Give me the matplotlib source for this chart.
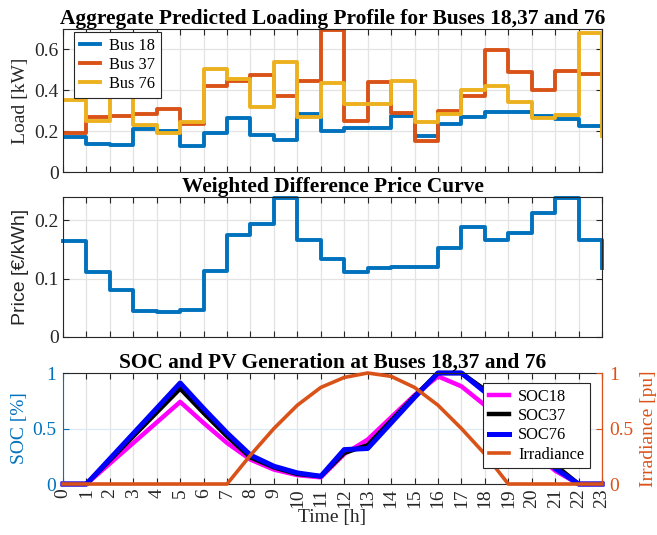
import matplotlib
matplotlib.use("Agg")
import matplotlib.pyplot as plt
import numpy as np

hours = list(range(24))

bus18 = [0.17, 0.138, 0.133, 0.21, 0.20, 0.126, 0.19, 0.265, 0.18, 0.157, 0.285, 0.20,
         0.216, 0.213, 0.275, 0.174, 0.233, 0.27, 0.295, 0.295, 0.272, 0.257, 0.226, 0.226]
bus37 = [0.19, 0.27, 0.272, 0.285, 0.31, 0.236, 0.423, 0.446, 0.475, 0.37, 0.446, 0.695,
         0.252, 0.443, 0.288, 0.154, 0.298, 0.37, 0.597, 0.489, 0.403, 0.492, 0.479, 0.479]
bus76 = [0.35, 0.25, 0.40, 0.228, 0.19, 0.244, 0.506, 0.456, 0.318, 0.54, 0.269, 0.436,
         0.331, 0.334, 0.446, 0.244, 0.282, 0.403, 0.42, 0.343, 0.266, 0.277, 0.679, 0.174]

price = [0.164, 0.111, 0.081, 0.045, 0.042, 0.047, 0.113, 0.175, 0.193, 0.238, 0.166, 0.133,
         0.111, 0.119, 0.12, 0.12, 0.153, 0.188, 0.166, 0.178, 0.213, 0.238, 0.166, 0.118]

soc18 = [0, 0, 0.185, 0.37, 0.555, 0.74, 0.55, 0.37, 0.22, 0.13, 0.08, 0.06,
         0.27, 0.40, 0.60, 0.80, 0.97, 0.88, 0.71, 0.50, 0.30, 0.12, 0, 0]
soc37 = [0, 0, 0.215, 0.43, 0.645, 0.86, 0.64, 0.43, 0.24, 0.15, 0.09, 0.07,
         0.28, 0.35, 0.57, 0.79, 1.0, 1.0, 0.85, 0.62, 0.40, 0.17, 0, 0]
soc76 = [0, 0, 0.2275, 0.455, 0.6825, 0.91, 0.68, 0.46, 0.26, 0.16, 0.10, 0.07,
         0.31, 0.32, 0.55, 0.78, 1.0, 1.0, 0.83, 0.60, 0.38, 0.14, 0, 0]
irradiance = [0, 0, 0, 0, 0, 0, 0, 0, 0.26, 0.5, 0.71, 0.87, 0.96, 1.0, 0.97, 0.87,
              0.71, 0.5, 0.27, 0, 0, 0, 0, 0]

load_ticks = [0, 0.2, 0.4, 0.6]
load_ticklabels = ["0", "0.2", "0.4", "0.6"]
price_ticks = [0, 0.1, 0.2]
price_ticklabels = ["0", "0.1", "0.2"]
soc_ticks = [0, 0.5, 1]
soc_ticklabels = ["0", "0.5", "1"]

C_BLUE = "#0072BD"
C_ORANGE = "#D95319"
C_YELLOW = "#EDB120"
AX_COL = "#262626"
GRID = "#e3e3e3"
SERIF = "Liberation Serif"
SANS = "Liberation Sans"

plt.rcParams["font.family"] = SERIF
plt.rcParams["mathtext.fontset"] = "stix"

fig = plt.figure(figsize=(6.57, 5.35), dpi=100)

L, W = 0.0959, 0.8204
ax1 = fig.add_axes([L, 0.6785, W, 0.2673])
ax2 = fig.add_axes([L, 0.3701, W, 0.2617])
ax3 = fig.add_axes([L, 0.0953, W, 0.2075])

TITLE_FS = 15.4
LEG_FS = 11.8


def style(ax):
    for s in ax.spines.values():
        s.set_color(AX_COL)
        s.set_linewidth(0.8)
    ax.tick_params(direction="in", length=4, width=0.8, top=True, right=True,
                   labelsize=14, colors=AX_COL, pad=3)
    ax.set_xlim(0, 23)
    ax.set_xticks(hours)
    ax.grid(True, color=GRID, linewidth=0.9)
    ax.set_axisbelow(True)


def legend(ax, handles, anchor):
    leg = ax.legend(handles=handles, loc="upper left", bbox_to_anchor=anchor,
                    borderaxespad=0, fontsize=LEG_FS, handlelength=1.25,
                    handletextpad=0.55, borderpad=0.35, labelspacing=0.2,
                    fancybox=False, framealpha=1, edgecolor=AX_COL)
    leg.get_frame().set_linewidth(0.8)
    return leg


# Top panel
style(ax1)
h18, = ax1.step(hours, bus18, where="post", color=C_BLUE, lw=2.8, label="Bus 18")
h37, = ax1.step(hours, bus37, where="post", color=C_ORANGE, lw=2.8, label="Bus 37")
h76, = ax1.step(hours, bus76, where="post", color=C_YELLOW, lw=2.8, label="Bus 76")
ax1.set_ylim(0, 0.7)
ax1.set_yticks(load_ticks)
ax1.set_yticklabels(load_ticklabels)
ax1.set_xticklabels([])
ax1.set_ylabel("Load [kW]", fontsize=14, color=AX_COL, labelpad=4)
ax1.set_title("Aggregate Predicted Loading Profile for Buses 18,37 and 76",
              fontsize=TITLE_FS, fontweight="bold", pad=3)
legend(ax1, [h18, h37, h76], (0.02, 0.98))

# Middle panel
style(ax2)
ax2.step(hours, price, where="post", color=C_BLUE, lw=2.8, clip_on=False)
ax2.set_ylim(0, 0.24)
ax2.set_yticks(price_ticks)
ax2.set_yticklabels(price_ticklabels)
ax2.set_xticklabels([])
ax2.set_ylabel("Price [€/kWh]", fontsize=14, family=SANS, color=AX_COL, labelpad=4)
ax2.set_title("Weighted Difference Price Curve", fontsize=TITLE_FS, fontweight="bold", pad=3)

# Bottom panel
style(ax3)
ax3.tick_params(right=False)
ax3.grid(False)
ax3.grid(True, axis="x", color=GRID, linewidth=0.9)
ax3.grid(True, axis="y", color="#d9eaf5", linewidth=0.9)
l1, = ax3.plot(hours, soc18, color="#FF00FF", lw=3.2, label="SOC18", clip_on=False)
l2, = ax3.plot(hours, soc37, color="black", lw=3.2, label="SOC37", clip_on=False)
l3, = ax3.plot(hours, soc76, color="#0000FF", lw=3.6, label="SOC76", clip_on=False)
ax3.set_ylim(0, 1)
ax3.set_yticks(soc_ticks)
ax3.set_yticklabels(soc_ticklabels)
ax3.set_xticklabels([str(h) for h in hours], rotation=90)
ax3.tick_params(axis="x", pad=3)
ax3.tick_params(axis="y", colors=C_BLUE, pad=5)
ax3.spines["left"].set_color(C_BLUE)
ax3.set_ylabel("SOC [%]", fontsize=14, color=C_BLUE, labelpad=3)
ax3.set_xlabel("Time [h]", fontsize=14, color=AX_COL, labelpad=1)
ax3.set_title("SOC and PV Generation at Buses 18,37 and 76",
              fontsize=TITLE_FS, fontweight="bold", pad=3)

ax4 = ax3.twinx()
ax4.set_xlim(0, 23)
l4, = ax4.plot(hours, irradiance, color=C_ORANGE, lw=2.6, label="Irradiance", clip_on=False)
ax4.set_ylim(0, 1)
ax4.set_yticks(soc_ticks)
ax4.set_yticklabels(soc_ticklabels)
ax4.tick_params(axis="y", direction="in", length=4, width=0.8, colors=C_ORANGE,
                labelsize=14, pad=5)
for s in ax4.spines.values():
    s.set_visible(False)
ax4.spines["right"].set_visible(True)
ax4.spines["right"].set_color(C_ORANGE)
ax4.spines["right"].set_linewidth(0.8)
ax4.set_ylabel("Irradiance [pu]", fontsize=14, color=C_ORANGE, labelpad=5)

legend(ax4, [l1, l2, l3, l4], (0.779, 0.91))

fig.savefig("out.png", dpi=100)
